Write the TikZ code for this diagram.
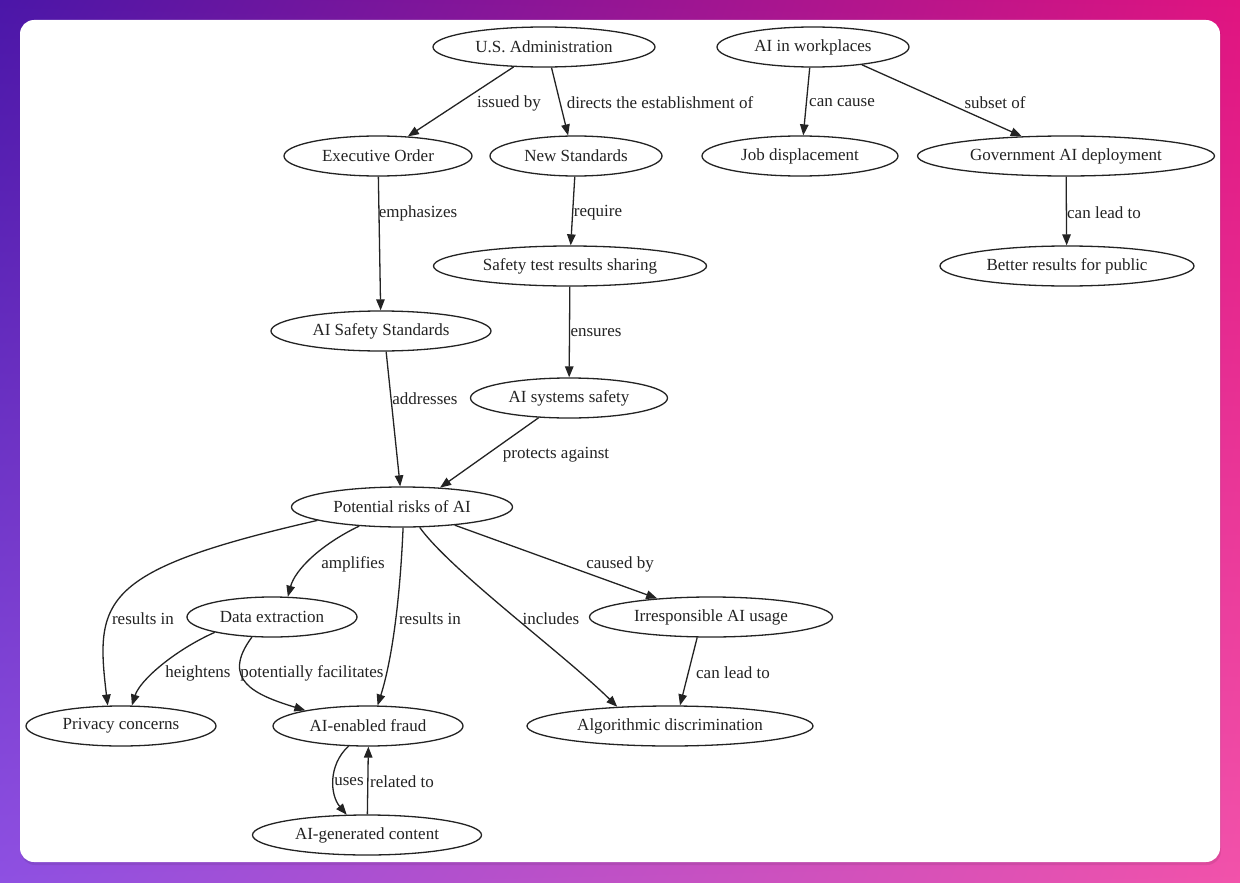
\documentclass[tikz,border=0pt]{standalone}
\usepackage{fontspec}
\setmainfont{Liberation Serif}
\usetikzlibrary{shapes.geometric,arrows.meta,shadings}
\definecolor{bgTL}{RGB}{75,22,168}
\definecolor{bgTR}{RGB}{224,20,128}
\definecolor{bgBL}{RGB}{142,80,226}
\definecolor{bgBR}{RGB}{242,82,170}
\definecolor{ink}{RGB}{35,35,35}
\tikzset{
  ell/.style={draw=ink, line width=1.3pt, ellipse, inner sep=0pt, minimum height=40pt, text=ink, font=\fontsize{17}{20}\selectfont},
  lbl/.style={inner sep=0pt, text=ink, yshift=-2pt, font=\fontsize{17}{20}\selectfont},
  edge/.style={draw=ink, line width=1.3pt, -{Triangle[length=11pt,width=8.5pt]}}
}
\begin{document}
\begin{tikzpicture}[x=1pt,y=-1pt]
\useasboundingbox (0,0) rectangle (1240,883);
\shade[upper left=bgTL, upper right=bgTR, lower left=bgBL, lower right=bgBR] (0,0) rectangle (1240,883);
\fill[black, opacity=0.08] (21,22) [rounded corners=14pt] rectangle (1221,865);
\fill[white, rounded corners=14pt] (20,20) rectangle (1220,862);

% nodes
\node[ell, minimum width=222pt] (usa) at (544,47) {U.S. Administration};
\node[ell, minimum width=192pt] (work) at (813,47) {AI in workplaces};
\node[ell, minimum width=188pt] (eo) at (378,156) {Executive Order};
\node[ell, minimum width=172pt] (ns) at (576,156) {New Standards};
\node[ell, minimum width=196pt] (job) at (800,156) {Job displacement};
\node[ell, minimum width=297pt] (gov) at (1066,156) {Government AI deployment};
\node[ell, minimum width=273pt] (stest) at (570,266) {Safety test results sharing};
\node[ell, minimum width=254pt] (better) at (1067,266) {Better results for public};
\node[ell, minimum width=220pt] (aiss) at (381,331) {AI Safety Standards};
\node[ell, minimum width=197pt] (syss) at (569,398) {AI systems safety};
\node[ell, minimum width=221pt] (pr) at (402,507) {Potential risks of AI};
\node[ell, minimum width=170pt] (data) at (272,617) {Data extraction};
\node[ell, minimum width=243pt] (irr) at (711,617) {Irresponsible AI usage};
\node[ell, minimum width=190pt] (priv) at (121,726) {Privacy concerns};
\node[ell, minimum width=190pt] (fraud) at (368,726) {AI-enabled fraud};
\node[ell, minimum width=286pt] (algo) at (670,726) {Algorithmic discrimination};
\node[ell, minimum width=229pt] (gen) at (367,835) {AI-generated content};

% edges
\draw[edge] (usa) -- (eo);
\draw[edge] (usa.-70.7) -- (ns.111.8);
\draw[edge] (work.261.5) -- (job.81.5);
\draw[edge] (work.-20) -- (gov.156.5);
\draw[edge] (eo) -- (aiss);
\draw[edge] (ns) -- (stest.88);
\draw[edge] (gov) -- (better.91);
\draw[edge] (stest) -- (syss);
\draw[edge] (aiss.-76.6) -- (pr.95.4);
\draw[edge] (syss.213.3) -- (pr.27.8);
\draw[edge] (pr.189.6) .. controls (100,570) and (95,600) .. (priv.123);
\draw[edge] (pr.204) .. controls (320,545) and (295,570) .. (data.52.7);
\draw[edge] (pr.-87) .. controls (400,600) and (392,660) .. (fraud.65.6);
\draw[edge] (pr.-49.4) .. controls (450,570) and (565,655) .. (algo.160);
\draw[edge] (pr.-19.7) -- (irr.161);
\draw[edge] (data.195) .. controls (175,650) and (140,680) .. (priv.62.4);
\draw[edge] (data.225) .. controls (220,680) and (255,695) .. (fraud.166.8);
\draw[edge] (irr.236) -- (algo.64.5);
\draw[edge] (fraud.226) .. controls (328,765) and (330,795) .. (gen.135);
\draw[edge] (gen.89) -- (fraud.-89);

% labels
\node[lbl] (l1) at (509,101) {issued by};
\node[lbl] (l2) at (660,101) {directs the establishment of};
\node[lbl] (l3) at (842,101) {can cause};
\node[lbl] (l4) at (995,101) {subset of};
\node[lbl] (l5) at (418,211) {emphasizes};
\node[lbl] (l6) at (598,211) {require};
\node[lbl] (l7) at (1104,211) {can lead to};
\node[lbl] (l8) at (596,331) {ensures};
\node[lbl] (l9) at (425,397) {addresses};
\node[lbl] (l10) at (556,453) {protects against};
\node[lbl] (l11) at (353,562) {amplifies};
\node[lbl] (l12) at (620,562) {caused by};
\node[lbl] (l13) at (143,617) {results in};
\node[lbl] (l14) at (430,617) {results in};
\node[lbl] (l15) at (551,617) {includes};
\node[lbl] (l16) at (198,671) {heightens};
\node[lbl] (l17) at (312,671) {potentially facilitates};
\node[lbl] (l18) at (733,671) {can lead to};
\node[lbl] (l19) at (349,780) {uses};
\node[lbl] (l20) at (402,780) {related to};
\end{tikzpicture}
\end{document}
